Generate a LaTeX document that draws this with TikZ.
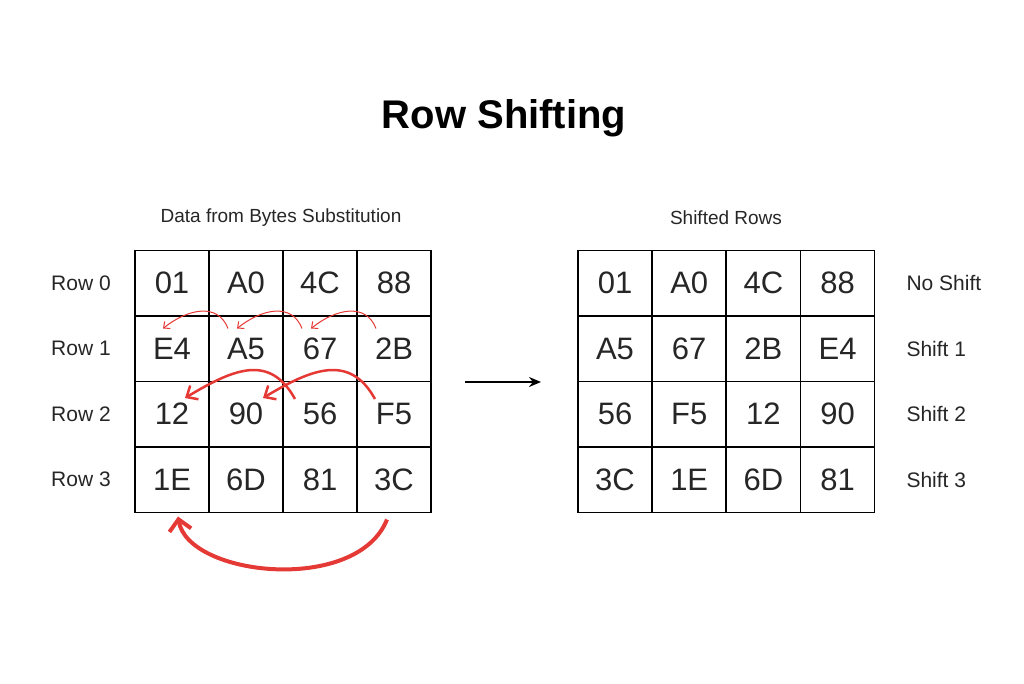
\documentclass[tikz,border=0pt]{standalone}
\usepackage{fontspec}
\setmainfont{Liberation Sans}
\usetikzlibrary{arrows.meta}
\definecolor{rd}{HTML}{E53935}
\begin{document}
\begin{tikzpicture}[x=1pt,y=-1pt,
  cell/.style={draw,line width=1.5pt,minimum width=74pt,minimum height=65.5pt,inner sep=0pt,font=\fontsize{31}{31}\selectfont,text=black!85},
  lab/.style={font=\fontsize{21}{21}\selectfont,text=black!85},
  sarr/.style={rd,line width=1pt,-{Straight Barb[length=5pt,width=9pt]}},
  marr/.style={rd,line width=2.5pt,-{Straight Barb[length=9pt,width=16pt]}},
  barr/.style={rd,line width=4pt,-{Straight Barb[length=11pt,width=22pt]}}]
\useasboundingbox (0,0) rectangle (1024,683);
\node[font=\bfseries\fontsize{40}{40}\selectfont] (title) at (504,118) {Row Shifting};
\node[lab,font=\fontsize{19}{19}\selectfont] (st1) at (281,218) {Data from Bytes Substitution};
\node[lab,font=\fontsize{19}{19}\selectfont] (st2) at (726,218) {Shifted Rows};
\foreach \r/\a/\b/\c/\d/\rl in {0/01/A0/4C/88/No Shift,1/E4/A5/67/2B/Shift 1,2/12/90/56/F5/Shift 2,3/1E/6D/81/3C/Shift 3}{
  \node[lab] (rl\r) at (81,{283+65.5*\r}) {Row \r};
  \node[lab,anchor=west] (sl\r) at (903,{283+65.5*\r}) {\rl};
  \foreach \t [count=\i from 0] in {\a,\b,\c,\d}
    \node[cell] (L\r\i) at ({172+74*\i},{283+65.5*\r}) {\t};
}
\foreach \r/\a/\b/\c/\d in {0/01/A0/4C/88,1/A5/67/2B/E4,2/56/F5/12/90,3/3C/1E/6D/81}{
  \foreach \t [count=\i from 0] in {\a,\b,\c,\d}
    \node[cell] (R\r\i) at ({615+74.2*\i},{283+65.5*\r}) {\t};
}
\coordinate (a1) at (465,382); \coordinate (a2) at (541,382);
\draw[line width=2pt,-{Stealth[length=12pt,width=10pt]}] (a1) -- (a2);
\draw[sarr] ([shift={(-18,-20)}]L11.center) .. controls +(-10,-26) and +(25,-20) .. ([shift={(-9,-20)}]L10.center);
\draw[sarr] ([shift={(-18,-20)}]L12.center) .. controls +(-10,-26) and +(25,-20) .. ([shift={(-9,-20)}]L11.center);
\draw[sarr] ([shift={(-18,-20)}]L13.center) .. controls +(-10,-26) and +(25,-20) .. ([shift={(-9,-20)}]L12.center);
\draw[marr] ([shift={(-25,-15)}]L22.center) .. controls +(-25,-45) and +(50,-30) .. ([shift={(13,-16)}]L20.center);
\draw[marr] ([shift={(-19,-15)}]L23.center) .. controls +(-25,-45) and +(50,-30) .. ([shift={(17,-16)}]L21.center);
\draw[barr] ([shift={(-7,40)}]L33.center) .. controls +(-30,75) and +(10,60) .. ([shift={(6,37)}]L30.center);
\end{tikzpicture}
\end{document}
